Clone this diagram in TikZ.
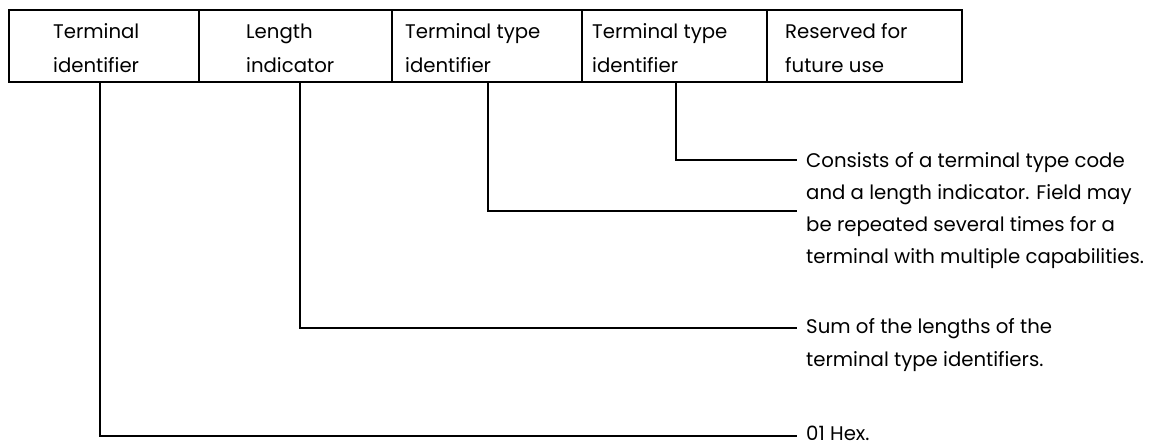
\documentclass[tikz,border=0pt]{standalone}
\usepackage{fontspec}
\setmainfont{Poppins}
\begin{document}
\begin{tikzpicture}[x=1pt,y=-1pt,
  field/.style={draw, line width=2pt, rectangle, minimum height=72pt, inner sep=0pt},
  fieldtext/.style={anchor=base west, align=left, inner sep=0pt, font=\fontsize{19.7}{34}\selectfont},
  desc/.style={anchor=base west, align=left, inner sep=0pt, font=\fontsize{19.7}{32}\selectfont},
  conn/.style={line width=2pt}]
\useasboundingbox (0,0) rectangle (1151,445);
% fields
\node[field, minimum width=190pt] (b1) at (104,46) {};
\node[field, minimum width=193pt] (b2) at (295.5,46) {};
\node[field, minimum width=190pt] (b3) at (487,46) {};
\node[field, minimum width=185pt] (b4) at (674.5,46) {};
\node[field, minimum width=195pt] (b5) at (864.5,46) {};
\node[fieldtext] (l1) at (53,72) {Terminal\\identifier};
\node[fieldtext] (l2) at (246,72) {Length\\indicator};
\node[fieldtext] (l3) at (405,72) {Terminal type\\identifier};
\node[fieldtext] (l4) at (592,72) {Terminal type\\identifier};
\node[fieldtext] (l5) at (785,72) {Reserved for\\future use};
% descriptions
\node[desc] (t4) at (806,263) {Consists of a terminal type code\\and a length indicator. Field may\\be repeated several times for a\\terminal with multiple capabilities.};
\node[desc, font=\fontsize{19.7}{33}\selectfont] (t2) at (806,366) {Sum of the lengths of the\\terminal type identifiers.};
\node[desc] (t1) at (806,440) {01 Hex.};
% connector ends
\coordinate (c4) at (797,160);
\coordinate (c3) at (797,211);
\coordinate (c2) at (797,328);
\coordinate (c1) at (797,436);
\draw[conn] ([xshift=-4pt]b1.south) |- (c1);
\draw[conn] ([xshift=4.5pt]b2.south) |- (c2);
\draw[conn] ([xshift=1pt]b3.south) |- (c3);
\draw[conn] ([xshift=1.5pt]b4.south) |- (c4);
\end{tikzpicture}
\end{document}
